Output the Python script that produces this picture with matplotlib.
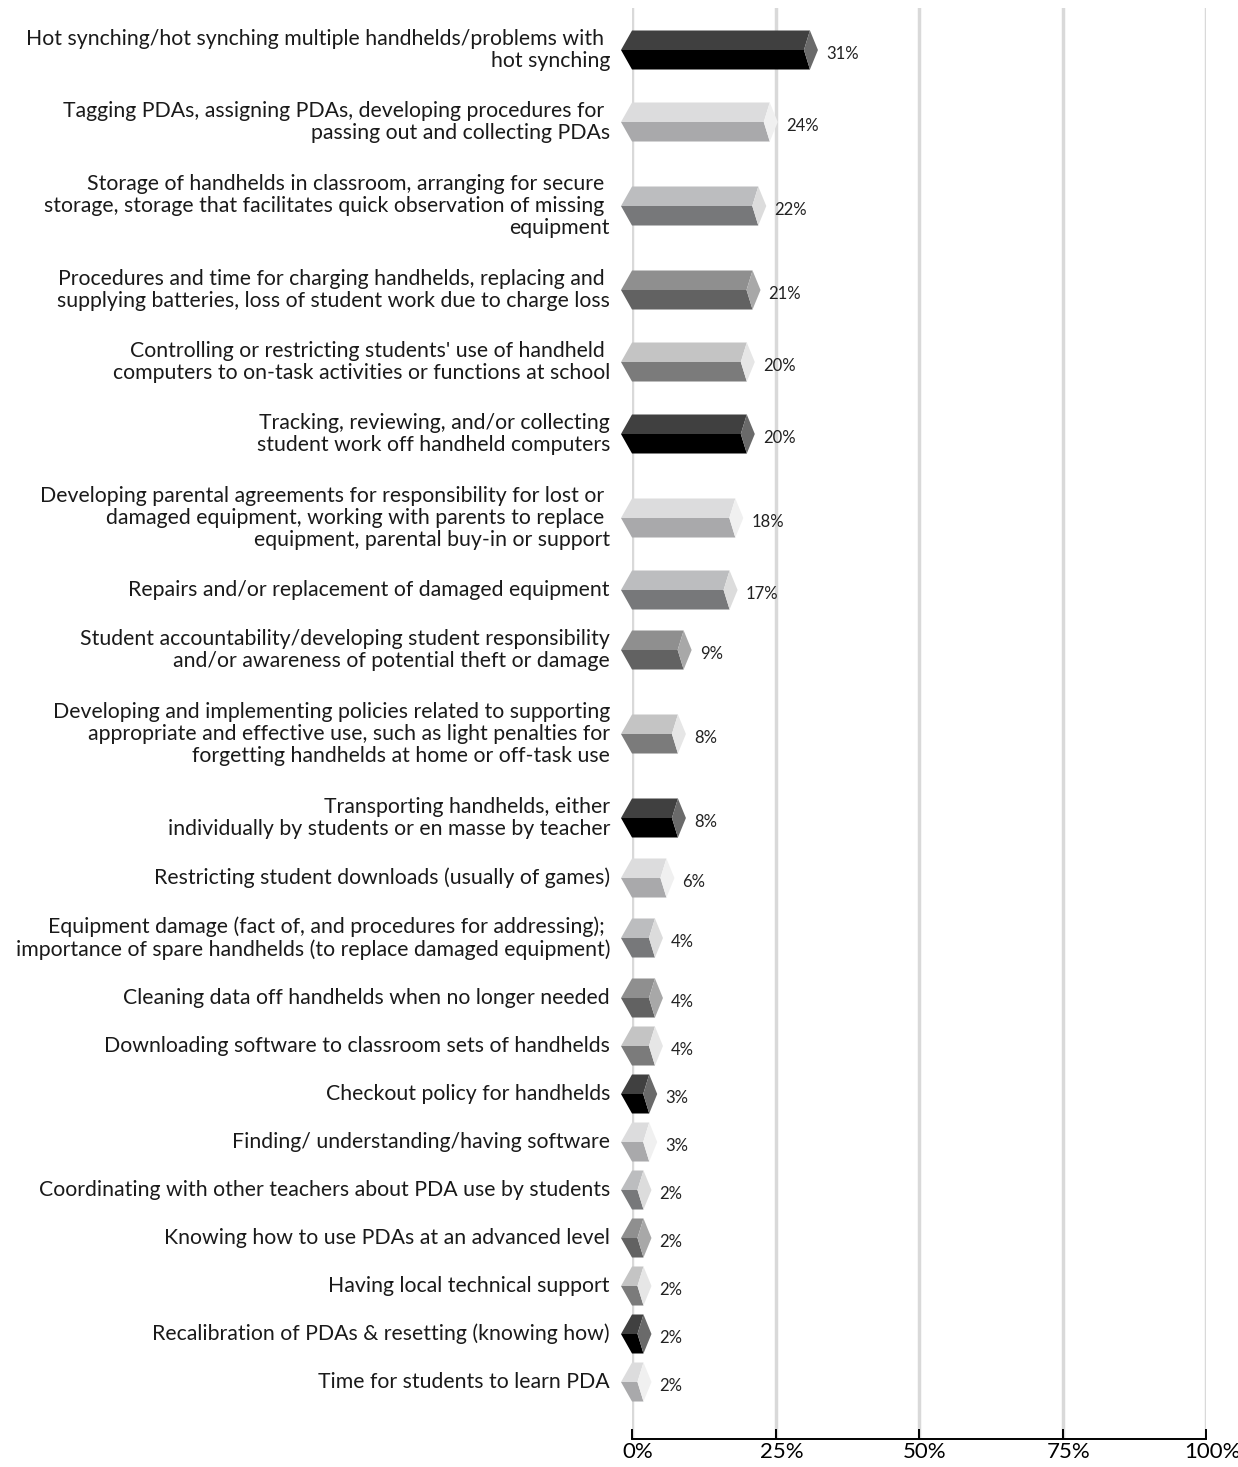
import matplotlib.pyplot as plt
import matplotlib.transforms as mtransforms

plt.rcParams['font.family'] = ['Lato', 'DejaVu Sans']

# --- data ---
LABELS = [
    "Hot synching/hot synching multiple handhelds/problems with \nhot synching",
    "Tagging PDAs, assigning PDAs, developing procedures for \npassing out and collecting PDAs",
    "Storage of handhelds in classroom, arranging for secure \nstorage, storage that facilitates quick observation of missing \nequipment",
    "Procedures and time for charging handhelds, replacing and \nsupplying batteries, loss of student work due to charge loss",
    "Controlling or restricting students' use of handheld \ncomputers to on-task activities or functions at school",
    "Tracking, reviewing, and/or collecting\nstudent work off handheld computers",
    "Developing parental agreements for responsibility for lost or \ndamaged equipment, working with parents to replace \nequipment, parental buy-in or support",
    "Repairs and/or replacement of damaged equipment",
    "Student accountability/developing student responsibility\nand/or awareness of potential theft or damage",
    "Developing and implementing policies related to supporting\nappropriate and effective use, such as light penalties for\nforgetting handhelds at home or off-task use",
    "Transporting handhelds, either\nindividually by students or en masse by teacher",
    "Restricting student downloads (usually of games)",
    "Equipment damage (fact of, and procedures for addressing); \nimportance of spare handhelds (to replace damaged equipment)",
    "Cleaning data off handhelds when no longer needed",
    "Downloading software to classroom sets of handhelds",
    "Checkout policy for handhelds",
    "Finding/ understanding/having software",
    "Coordinating with other teachers about PDA use by students",
    "Knowing how to use PDAs at an advanced level",
    "Having local technical support",
    "Recalibration of PDAs & resetting (knowing how)",
    "Time for students to learn PDA",
]
VALUES = [31, 24, 22, 21, 20, 20, 18, 17, 9, 8, 8, 6, 4, 4, 4, 3, 3, 2, 2, 2, 2, 2]
TICKS = [0, 25, 50, 75, 100]
TICK_LABELS = ["0%", "25%", "50%", "75%", "100%"]

# (top face, bottom face, end cap) - cycles every 5 bars
SHADES = [
    ("#404040", "#000000", "#6a6a6a"),
    ("#dcdcdd", "#a9a9ab", "#f0f0f0"),
    ("#bcbdbf", "#77787a", "#dcdcdc"),
    ("#8f8f8f", "#626262", "#a8a8a8"),
    ("#c4c4c4", "#7b7b7b", "#e6e6e6"),
]

# --- layout (pixels on a 1238x1467 canvas) ---
W, H, DPI = 1238, 1467, 100
AX_L, AX_R, AX_T, AX_B = 632, 1206, 8, 1439
PX_X = (AX_R - AX_L) / 100.0      # pixels per percent
UNIT = 12.0                        # pixels per y unit

fig = plt.figure(figsize=(W / DPI, H / DPI), dpi=DPI)
ax = fig.add_axes([AX_L / W, 1 - AX_B / H, (AX_R - AX_L) / W, (AX_B - AX_T) / H])

# row centres grow with the number of text lines in each label
nlines = [lab.count("\n") + 1 for lab in LABELS]
centers = [(50 - AX_T) / UNIT]
for i in range(1, len(LABELS)):
    centers.append(centers[-1] + 2 + nlines[i - 1] + nlines[i])

half = 19.5 / UNIT
left_ext = 11 / PX_X
cap = 8 / PX_X
notch = 6 / PX_X

for i, (v, yc) in enumerate(zip(VALUES, centers)):
    top_c, bot_c, cap_c = SHADES[i % len(SHADES)]
    yt, yb = yc - half, yc + half
    x0, x1 = 0, v
    L = (x0 - left_ext, yc)
    C = (x1 - notch, yc)
    ax.fill(*zip(L, (x0, yt), (x1, yt), C), color=top_c, lw=0, clip_on=False, zorder=3)
    ax.fill(*zip(L, C, (x1, yb), (x0, yb)), color=bot_c, lw=0, clip_on=False, zorder=3)
    ax.fill(*zip((x1, yt), (x1 + cap, yc), (x1, yb), C), color=cap_c, lw=0,
            clip_on=False, zorder=3)
    ax.text(x1 + cap + 8 / PX_X, yc + 0.3, f"{v}%", ha="left", va="center",
            fontsize=12, color="#222222", zorder=4)
    ax.text(-22 / PX_X, yc, LABELS[i], ha="right", va="center", ma="right",
            fontsize=15.3, color="#1a1a1a", linespacing=1.13, clip_on=False)

ax.set_xlim(0, 100)
ax.set_ylim((AX_B - AX_T) / UNIT, 0)
ax.set_yticks([])
ax.set_xticks(TICKS)
ax.set_xticklabels(TICK_LABELS, fontsize=16)
ax.tick_params(axis="x", direction="in", length=7, width=1.4, pad=2, color="black")
for lab in ax.get_xticklabels():
    lab.set_transform(lab.get_transform() + mtransforms.ScaledTranslation(6 / DPI, 0, fig.dpi_scale_trans))

ax.grid(axis="x", color="#d9d9d9", lw=2.5)
ax.set_axisbelow(True)
for s in ["top", "left", "right"]:
    ax.spines[s].set_visible(False)
ax.spines["bottom"].set_linewidth(1.4)

fig.savefig("out.png", dpi=DPI)
